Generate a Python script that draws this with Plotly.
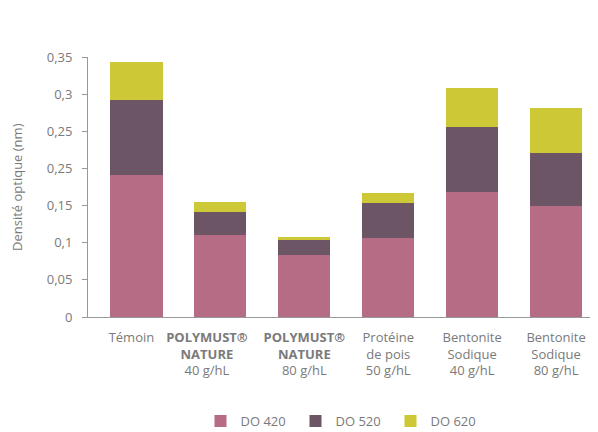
import plotly.graph_objects as go

pad = "&nbsp;" * 8
categories = [
    "Témoin" + "&nbsp;" * 3,
    "<b>POLYMUST®</b>" + pad + "<br><b>NATURE</b>" + pad + "<br>40 g/hL" + pad,
    "<b>POLYMUST®</b><br><b>NATURE</b><br>80 g/hL",
    "Protéine<br>de pois<br>50 g/hL",
    "Bentonite<br>Sodique<br>40 g/hL",
    "Bentonite<br>Sodique<br>80 g/hL",
]
do420 = [0.191, 0.111, 0.083, 0.107, 0.168, 0.150]
do520 = [0.101, 0.030, 0.021, 0.046, 0.088, 0.071]
do620 = [0.051, 0.014, 0.004, 0.014, 0.052, 0.060]

tick_vals = [0, 0.05, 0.1, 0.15, 0.2, 0.25, 0.3, 0.35]
tick_text = ["0", "0,05", "0,1", "0,15", "0,25", "0,25", "0,3", "0,35"]

x = list(range(len(categories)))
font_family = "Open Sans, Lato, sans-serif"
grey = "#7a7a7a"

fig = go.Figure()
for name, vals, col in [
    ("DO 420", do420, "#b66c84"),
    ("DO 520", do520, "#6c5565"),
    ("DO 620", do620, "#cdc936"),
]:
    fig.add_trace(go.Bar(x=x, y=vals, name=name, marker=dict(color=col, line=dict(width=0))))

# page body has an 8px default margin, so the figure is sized/offset to compensate
fig.update_layout(
    barmode="stack",
    bargap=0.38,
    width=590,
    height=424,
    margin=dict(l=80, r=0, t=49, b=115, autoexpand=False),
    plot_bgcolor="white",
    paper_bgcolor="white",
    font=dict(family=font_family, size=13, color=grey),
    showlegend=True,
    legend=dict(
        orientation="h",
        x=0.5,
        xanchor="center",
        y=-0.4,
        yanchor="middle",
        font=dict(size=13, color=grey),
        itemwidth=30,
        entrywidth=50,
        traceorder="normal",
    ),
    xaxis=dict(
        tickmode="array",
        tickvals=x,
        ticktext=categories,
        tickangle=0,
        range=[-0.578, 5.5],
        showline=True,
        linecolor="#999999",
        linewidth=1,
        ticks="",
        tickfont=dict(size=13, color=grey),
        ticklabelstandoff=8,
        showgrid=False,
        zeroline=False,
        automargin=False,
    ),
    yaxis=dict(
        range=[0, 0.35],
        tickmode="array",
        tickvals=tick_vals,
        ticktext=tick_text,
        showline=True,
        linecolor="#999999",
        linewidth=1,
        ticks="outside",
        ticklen=5,
        tickcolor="#999999",
        ticklabelstandoff=7,
        showgrid=False,
        zeroline=False,
        automargin=False,
        tickfont=dict(size=13, color=grey),
    ),
    annotations=[
        dict(
            text="Densité optique (nm)",
            xref="paper", yref="paper",
            x=(17 - 88) / 510, y=0.5,
            xanchor="center", yanchor="middle",
            textangle=-90,
            showarrow=False,
            font=dict(size=13, color=grey),
        )
    ],
)

fig.write_html("out.html")
